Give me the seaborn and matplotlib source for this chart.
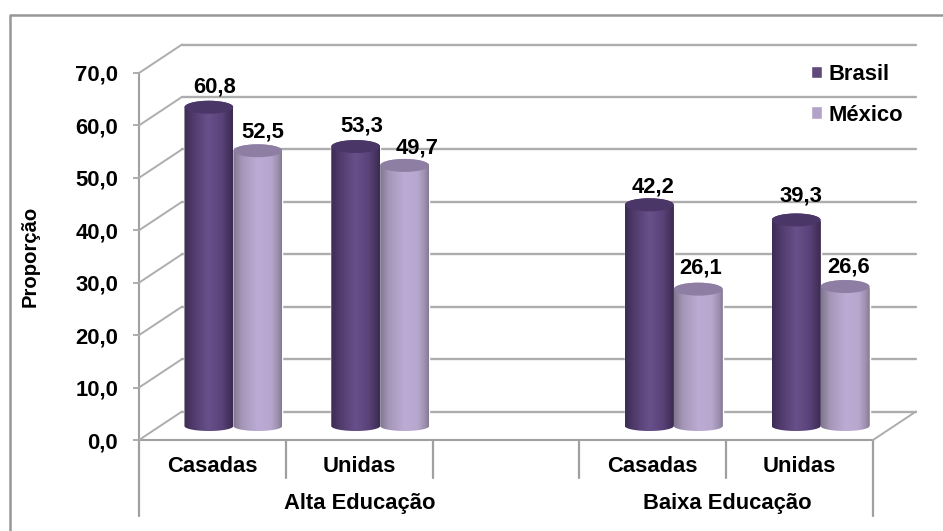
import numpy as np
import pandas as pd
import seaborn as sns
import matplotlib
matplotlib.use("Agg")
import matplotlib.pyplot as plt
from matplotlib.colors import LinearSegmentedColormap
from matplotlib.lines import Line2D
from matplotlib.patches import PathPatch, Ellipse
from matplotlib.path import Path

categories = ["Alta Casadas", "Alta Unidas", "vazio", "Baixa Casadas", "Baixa Unidas"]
first_level = ["Casadas", "Unidas", "", "Casadas", "Unidas"]
second_level = ["Alta Educação", "Baixa Educação"]
brasil = [60.8, 53.3, np.nan, 42.2, 39.3]
mexico = [52.5, 49.7, np.nan, 26.1, 26.6]
y_ticks = [0, 10, 20, 30, 40, 50, 60, 70]
y_tick_labels = ["0,0", "10,0", "20,0", "30,0", "40,0", "50,0", "60,0", "70,0"]
value_labels = ["60,8", "53,3", "42,2", "39,3", "52,5", "49,7", "26,1", "26,6"]

W, H = 943, 531
sns.set_theme(style="white")
plt.rcParams["font.family"] = ["Liberation Sans", "DejaVu Sans"]
plt.rcParams["font.weight"] = "bold"
GRID = "#adadad"
AXC = "#a0a0a0"
FS = 15.8

fig = plt.figure(figsize=(W / 100, H / 100), dpi=100, facecolor="white")


def axes_px(x0, x1, ytop, ybot, **kw):
    return fig.add_axes([x0 / W, 1 - ybot / H, (x1 - x0) / W, (ybot - ytop) / H], **kw)


# outer chart frame
fig.add_artist(Line2D([10 / W, 10 / W, 1], [1 - 530 / H, 1 - 15 / H, 1 - 15 / H],
                      color="#979797", lw=1.8, transform=fig.transFigure))

# back wall
back = axes_px(182, 916, 44.5, 411.5, facecolor="none")
back.set_xlim(0, 5)
back.set_ylim(0, 70)
back.set_axis_off()
for v in y_ticks:
    back.axhline(v, color=GRID, lw=1.7, clip_on=False)

# front plane: value axis and category axis
front = axes_px(139, 873, 73, 440, facecolor="none")
front.set_xlim(0, 5)
front.set_ylim(0, 70)
sns.despine(ax=front, top=True, right=True)
for s in ("left", "bottom"):
    front.spines[s].set_color(AXC)
    front.spines[s].set_linewidth(1.5)
front.set_yticks(y_ticks)
front.set_yticklabels(y_tick_labels, fontsize=FS, fontweight="bold", color="black")
front.tick_params(axis="y", length=4, width=1.2, color=AXC, pad=11, left=True)
front.set_xticks(range(6))
front.set_xticklabels([])
front.tick_params(axis="x", length=0)
front.set_ylabel("Proporção", fontsize=14.6, fontweight="bold", color="black")
front.yaxis.set_label_coords((40 - 139) / 734, 0.5)

# receding lines joining the front plane with the back wall
to_fig = fig.transFigure.inverted()
for v in y_ticks:
    a = to_fig.transform(front.transData.transform((0, v)))
    b = to_fig.transform(back.transData.transform((0, v)))
    fig.add_artist(Line2D([a[0], b[0]], [a[1], b[1]], color=GRID, lw=1.4))
a = to_fig.transform(front.transData.transform((5, 0)))
b = to_fig.transform(back.transData.transform((5, 0)))
fig.add_artist(Line2D([a[0], b[0]], [a[1], b[1]], color=GRID, lw=1.4))

# category axis separators and labels
for i in range(6):
    depth = 76 if i in (0, 5) else 38
    front.plot([i, i], [0, -depth / 367 * 70], color=AXC, lw=1.6, clip_on=False)
for i, lab in enumerate(first_level):
    front.text(i + 0.5, -26 / 367 * 70, lab, ha="center", va="center",
               fontsize=FS, fontweight="bold", color="black", clip_on=False)
front.text(1.505, -63.5 / 367 * 70, second_level[0], ha="center", va="center",
           fontsize=FS, fontweight="bold", color="black")
front.text(4.005, -63.5 / 367 * 70, second_level[1], ha="center", va="center",
           fontsize=FS, fontweight="bold", color="black")

# cylinders
df = pd.DataFrame({
    "categoria": categories * 2,
    "país": ["Brasil"] * 5 + ["México"] * 5,
    "proporção": brasil + mexico,
}).dropna()

scale = 367 / 70
bars = axes_px(160, 894, 73 - 14, 426 + 8 * scale, facecolor="none")
sns.barplot(data=df, x="categoria", y="proporção", hue="país", order=categories,
            hue_order=["Brasil", "México"], palette=["#604a7b", "#b3a2c7"],
            saturation=1, width=98 / 147, errorbar=None, ax=bars, legend=True, zorder=3)
bars.set_xlim(-0.5, 4.5)
bars.set_ylim(-8, 70)
bars.set_axis_off()
handles, labels = bars.get_legend_handles_labels()
bars.get_legend().remove()

cm_b = LinearSegmentedColormap.from_list("b", [(0, "#3c2b54"), (0.2, "#523c6e"), (0.5, "#68508a"),
                                               (0.78, "#594278"), (0.92, "#46335f"), (1, "#3a2a50")])
cm_m = LinearSegmentedColormap.from_list("m", [(0, "#80768e"), (0.18, "#a596b8"), (0.5, "#bcabd4"),
                                               (0.78, "#b7a6cd"), (0.92, "#9d90ae"), (1, "#857a93")])
grad = np.linspace(0, 1, 128)[None, :]
rx_top = 6.5 / scale
rx_bot = 5 / scale
offsets = [(6, 20), (6, 21), (4, 18), (5, 24), (5, 19), (12, 17), (2, 21), (3, 20)]
for k, (p, lab, off) in enumerate(zip(bars.patches, value_labels, offsets)):
    x0, w, top = p.get_x(), p.get_width(), p.get_height()
    cmap = cm_b if k < 4 else cm_m
    cx = x0 + w / 2
    t1 = np.linspace(np.pi, 2 * np.pi, 40)
    t2 = np.linspace(0, np.pi, 40)
    xs = np.r_[cx + w / 2 * np.cos(t1), cx + w / 2 * np.cos(t2)]
    ys = np.r_[rx_bot * np.sin(t1), top + rx_top * np.sin(t2)]
    outline = PathPatch(Path(np.c_[xs, ys]), transform=bars.transData, fc="none", ec="none")
    bars.add_patch(outline)
    im = bars.imshow(grad, cmap=cmap, extent=[x0, x0 + w, -rx_bot, top + rx_top],
                     aspect="auto", zorder=4 + k % 4 * 0.01 + (k >= 4), interpolation="bilinear")
    im.set_clip_path(outline)
    cap = Ellipse((cx, top), w * 0.99, 2 * rx_top, fc="#4b3668" if k < 4 else "#8e7ea3", ec="none",
                  zorder=4.5 + (k >= 4))
    bars.add_patch(cap)
    bars.annotate(lab, (cx, top), xytext=off, textcoords="offset pixels", ha="center", va="center",
                  fontsize=FS, fontweight="bold", color="black", zorder=10)
bars.set_xlim(-0.5, 4.5)
bars.set_ylim(-8, 70)

leg = fig.legend(handles, labels, loc="upper left", bbox_to_anchor=(811 / W, 1 - 64 / H),
                 frameon=False, fontsize=FS, handlelength=0.5, handleheight=0.5,
                 handletextpad=0.32, labelspacing=0.89, borderpad=0, borderaxespad=0)
for t in leg.get_texts():
    t.set_fontweight("bold")
    t.set_color("black")

fig.savefig("out.png", dpi=100, facecolor="white")
